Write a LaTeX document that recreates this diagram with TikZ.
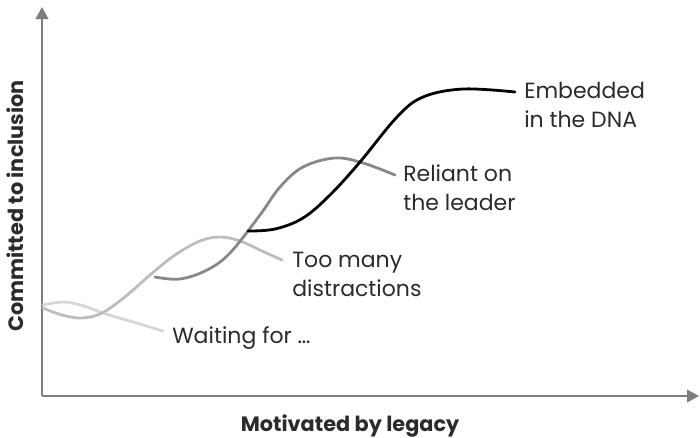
\documentclass[tikz,border=0pt]{standalone}
\usepackage{fontspec}
\setmainfont{Poppins}
\usetikzlibrary{arrows.meta}

\definecolor{axisgray}{HTML}{7F7F7F}
\definecolor{textdark}{HTML}{2B2B2B}
\definecolor{waitgray}{HTML}{D6D6D6}
\definecolor{distractgray}{HTML}{BDBDBD}
\definecolor{leadergray}{HTML}{888888}

\begin{document}
\begin{tikzpicture}[
  x=0.75pt,
  y=-0.75pt,
  axis/.style={draw=axisgray, line width=1.3pt, -{Triangle[length=9pt,width=9.5pt]}},
  curve/.style={line width=2.1pt, line cap=round},
  waitline/.style={curve, draw=waitgray},
  distractline/.style={curve, draw=distractgray},
  leaderline/.style={curve, draw=leadergray},
  dnaline/.style={curve, draw=black},
  % base anchor of a two-line label sits on its last line
  stagelabel/.style={font=\fontsize{16.5pt}{21.75pt}\selectfont, text=textdark, align=left, inner sep=0pt, anchor=base west},
  axislabel/.style={font=\fontsize{15.6pt}{19pt}\selectfont\bfseries, text=textdark, inner sep=0pt, anchor=base}
]
\useasboundingbox (0,0) rectangle (700,437);

% Axes
\coordinate (origin) at (42,396);
\coordinate (yTop) at (42,7);
\coordinate (xEnd) at (699,396);
\draw[axis] (origin) -- (yTop);
\draw[axis] (origin) -- (xEnd);

\node[axislabel] (xLbl) at (350,431) {Motivated by legacy};
\node[axislabel, rotate=90] (yLbl) at (23,206) {Committed to inclusion};

% Stage curves, lightest first
\draw[waitline] plot[smooth, tension=0.6] coordinates {
  (43,305) (64,302) (84,306) (103,313) (133,322) (163,331)};
\draw[distractline] plot[smooth, tension=0.6] coordinates {
  (43,308) (62,315) (82,318) (102,313) (126,296) (150,275) (175,255)
  (200,241) (220,237) (240,241) (262,251) (282,260)};
\draw[leaderline] plot[smooth, tension=0.6] coordinates {
  (155,277) (180,279) (207,270) (230,253) (260,215) (280,187) (303,167)
  (335,158) (363,163) (395,175)};
\draw[dnaline] plot[smooth, tension=0.6] coordinates {
  (248,231) (275,229) (303,218) (330,195) (360,162) (397,117) (423,97)
  (463,89) (515,92)};

% Stage labels
\node[stagelabel] (dnaLbl) at (524,127) {Embedded\\in the DNA};
\node[stagelabel] (leaderLbl) at (403,210) {Reliant on\\the leader};
\node[stagelabel] (distractLbl) at (292,296) {Too many\\distractions};
\node[stagelabel] (waitLbl) at (172,343) {Waiting for …};

\end{tikzpicture}
\end{document}
